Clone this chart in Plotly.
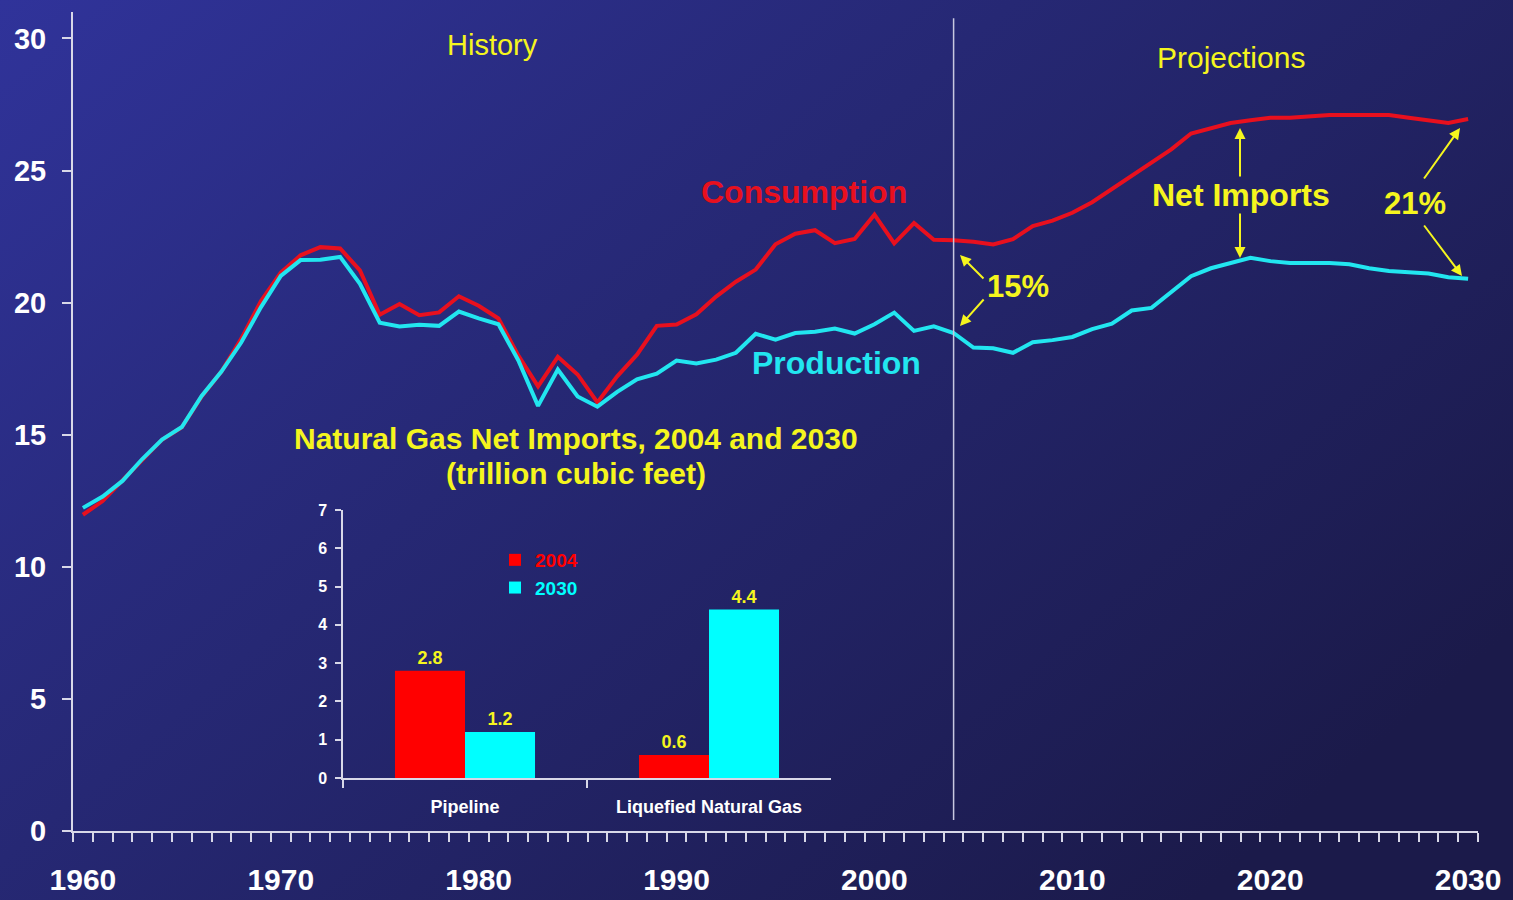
import base64
import plotly.graph_objects as go

# --- data (trillion cubic feet) ---
years = list(range(1960, 2031))
consumption = [
    11.97, 12.49, 13.27, 14.03, 14.81, 15.28, 16.45, 17.39, 18.63, 20.06,
    21.14, 21.79, 22.10, 22.05, 21.22, 19.54, 19.95, 19.52, 19.63, 20.24,
    19.88, 19.40, 18.00, 16.83, 17.95, 17.28, 16.22, 17.21, 18.03, 19.12,
    19.17, 19.56, 20.23, 20.79, 21.25, 22.21, 22.61, 22.74, 22.25, 22.41,
    23.33, 22.24, 23.01, 22.38, 22.36, 22.30, 22.20, 22.40, 22.90, 23.10,
    23.40, 23.80, 24.30, 24.80, 25.30, 25.80, 26.40, 26.60, 26.80, 26.90,
    27.00, 27.00, 27.05, 27.10, 27.10, 27.10, 27.10, 27.00, 26.90, 26.80,
    26.95,
]
production = [
    12.23, 12.66, 13.25, 14.08, 14.82, 15.29, 16.47, 17.39, 18.49, 19.83,
    21.01, 21.61, 21.62, 21.73, 20.71, 19.24, 19.10, 19.16, 19.12, 19.66,
    19.40, 19.18, 17.82, 16.09, 17.47, 16.45, 16.06, 16.62, 17.10, 17.31,
    17.81, 17.70, 17.84, 18.10, 18.82, 18.60, 18.85, 18.90, 19.02, 18.83,
    19.18, 19.62, 18.93, 19.10, 18.85, 18.30, 18.27, 18.10, 18.50, 18.58,
    18.70, 19.00, 19.20, 19.70, 19.80, 20.40, 21.00, 21.30, 21.50, 21.70,
    21.57, 21.50, 21.50, 21.50, 21.45, 21.30, 21.20, 21.15, 21.10, 20.96,
    20.90,
]
x_labels = list(range(1960, 2031, 10))
y_labels = list(range(0, 31, 5))

bar_categories = ["Pipeline", "Liquefied Natural Gas"]
imports_2004 = [2.8, 0.6]
imports_2030 = [1.2, 4.4]

RED = "#E8101E"
CYAN = "#22E6F0"
YELLOW = "#F5F51E"
AXIS = "#D8D8E8"
FONT = "Liberation Sans, Arial, sans-serif"

W, H = 1513, 900
ML, MR, MT, MB = 73, 35, 12, 69
PW, PH = W - ML - MR, H - MT - MB

# gradient slide background as an inline svg
bg_svg = (
    '<svg xmlns="http://www.w3.org/2000/svg" width="1513" height="900">'
    '<defs><linearGradient id="g" x1="0" y1="0" x2="1" y2="0.7">'
    '<stop offset="0" stop-color="#30339A"/>'
    '<stop offset="0.45" stop-color="#262874"/>'
    '<stop offset="1" stop-color="#1B1A4A"/>'
    '</linearGradient></defs>'
    '<rect width="1513" height="900" fill="url(#g)"/></svg>'
)
bg_src = "data:image/svg+xml;base64," + base64.b64encode(bg_svg.encode()).decode()

fig = go.Figure()

fig.add_trace(go.Scatter(
    x=years, y=consumption, mode="lines", name="Consumption",
    line=dict(color=RED, width=4), showlegend=False, hoverinfo="skip",
))
fig.add_trace(go.Scatter(
    x=years, y=production, mode="lines", name="Production",
    line=dict(color=CYAN, width=4), showlegend=False, hoverinfo="skip",
))

# inset bar chart
fig.add_trace(go.Bar(
    x=bar_categories, y=imports_2004, name="<span style='color:#FF0000'>2004</span>",
    marker=dict(color="#FF0000", line=dict(width=0)),
    text=[f"{v:.1f}" for v in imports_2004], textposition="outside",
    textfont=dict(color=YELLOW, size=18, family=FONT, weight="bold"),
    cliponaxis=False, xaxis="x2", yaxis="y2",
))
fig.add_trace(go.Bar(
    x=bar_categories, y=imports_2030, name="<span style='color:#00FFFF'>2030</span>",
    marker=dict(color="#00FFFF", line=dict(width=0)),
    text=[f"{v:.1f}" for v in imports_2030], textposition="outside",
    textfont=dict(color=YELLOW, size=18, family=FONT, weight="bold"),
    cliponaxis=False, xaxis="x2", yaxis="y2",
))


def px_year(px):
    return 1959.5 + (px - ML) / (PW / 71)


def px_val(py):
    return (MT + PH - py) / (PH / 31)


# history / projections divider
fig.add_shape(type="line", xref="x", yref="y", x0=2004, x1=2004,
              y0=0.42, y1=30.76, line=dict(color="#C8C8E0", width=1.5))

labels = [
    ("History", 492, 45, YELLOW, 29, "normal"),
    ("Projections", 1231, 57, YELLOW, 30, "normal"),
    ("Consumption", 804, 192, RED, 32, "bold"),
    ("Production", 836, 363, CYAN, 32, "bold"),
    ("Net Imports", 1241, 195, YELLOW, 32, "bold"),
    ("21%", 1415, 203, YELLOW, 31, "bold"),
    ("15%", 1018, 286, YELLOW, 31, "bold"),
    ("Natural Gas Net Imports, 2004 and 2030", 576, 438, YELLOW, 30, "bold"),
    ("(trillion cubic feet)", 576, 473, YELLOW, 30, "bold"),
]
for txt, px, py, col, size, weight in labels:
    fig.add_annotation(
        x=px_year(px), y=px_val(py), xref="x", yref="y", text=txt,
        showarrow=False, xanchor="center", yanchor="middle",
        font=dict(color=col, size=size, family=FONT, weight=weight),
    )

# arrows: (tail px, tail py, head px, head py)
arrows = [
    (1240, 178, 1240, 128),
    (1240, 212, 1240, 258),
    (1423, 180, 1460, 128),
    (1423, 224, 1462, 276),
    (985, 280, 960, 255),
    (985, 298, 960, 326),
]
for tx, ty, hx, hy in arrows:
    fig.add_annotation(
        x=px_year(hx), y=px_val(hy), ax=px_year(tx), ay=px_val(ty),
        xref="x", yref="y", axref="x", ayref="y", text="",
        showarrow=True, arrowhead=2, arrowsize=1.1, arrowwidth=2,
        arrowcolor=YELLOW,
    )

fig.update_layout(
    width=W, height=H,
    margin=dict(l=ML, r=MR, t=MT, b=MB, autoexpand=False),
    paper_bgcolor="#22235F", plot_bgcolor="rgba(0,0,0,0)",
    font=dict(family=FONT, color="white"),
    barmode="group", bargap=0.426, bargroupgap=0,
    images=[dict(
        source=bg_src, xref="paper", yref="paper",
        x=-ML / PW, y=1 + MT / PH, sizex=W / PW, sizey=H / PH,
        sizing="stretch", xanchor="left", yanchor="top", layer="below",
    )],
    showlegend=True,
    legend=dict(
        x=(495 - ML) / PW, y=(MT + PH - 541) / PH, xanchor="left", yanchor="top",
        bgcolor="rgba(0,0,0,0)", font=dict(size=19, family=FONT, weight="bold"),
        itemwidth=30, tracegroupgap=0,
    ),
    xaxis=dict(
        range=[1959.5, 2030.5], tickvals=x_labels, ticks="", automargin=False,
        showline=True, linecolor=AXIS, linewidth=2, showgrid=False, zeroline=False,
        tickfont=dict(size=30, family=FONT, weight="bold", color="white"),
        ticklabelstandoff=21,
        minor=dict(ticks="outside", ticklen=9, tickwidth=1.5, tickcolor=AXIS,
                   tick0=1959.5, dtick=1, showgrid=False),
    ),
    yaxis=dict(
        range=[0, 31], tickvals=y_labels, ticks="outside", ticklen=9,
        tickwidth=1.5, tickcolor=AXIS, automargin=False,
        showline=True, linecolor=AXIS, linewidth=2, showgrid=False, zeroline=False,
        tickfont=dict(size=29, family=FONT, weight="bold", color="white"),
        ticklabelstandoff=10,
    ),
    xaxis2=dict(
        domain=[(343 - ML) / PW, (831 - ML) / PW], anchor="y2", automargin=False,
        type="category", range=[-0.5, 1.5], tickson="boundaries",
        ticks="outside", ticklen=8, tickwidth=1.5, tickcolor=AXIS,
        showline=True, linecolor=AXIS, linewidth=1.5, showgrid=False,
        tickfont=dict(size=18, family=FONT, weight="bold", color="white"),
        ticklabelstandoff=12,
    ),
    yaxis2=dict(
        domain=[(MT + PH - 778) / PH, (MT + PH - 510) / PH], anchor="x2",
        automargin=False,
        range=[0, 7], dtick=1, ticks="outside", ticklen=6, tickwidth=1.5,
        tickcolor=AXIS, showline=True, linecolor=AXIS, linewidth=1.5,
        showgrid=False, zeroline=False,
        tickfont=dict(size=16, family=FONT, weight="bold", color="white"),
        ticklabelstandoff=5,
    ),
)

# drop the default page margin so the slide fills the window
fig.write_html("out.html", config={"displayModeBar": False},
               post_script="document.body.style.margin='0';")
